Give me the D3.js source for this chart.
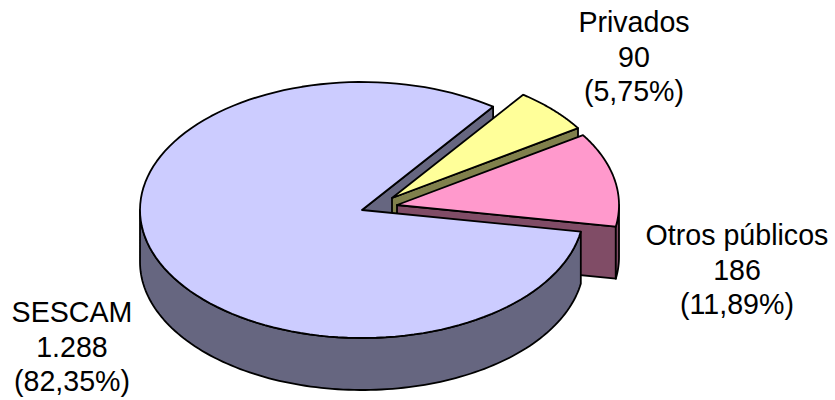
<!DOCTYPE html>
<html><head><meta charset="utf-8">
<script src="https://cdn.jsdelivr.net/npm/d3@7"></script>
<style>html,body{margin:0;padding:0;background:#fff}svg{display:block}text{font-family:"Liberation Sans",Arial,sans-serif;font-size:28.6px;fill:#000}</style>
</head><body><svg id="c" width="835" height="400"></svg>
<script>
const categories = ["Privados", "Otros públicos", "SESCAM"];
const values = [90, 186, 1288];
const valueLabels = ["90", "186", "1.288"];
const percentLabels = ["(5,75%)", "(11,89%)", "(82,35%)"];
const topColors = ["#FFFF99", "#FF99CC", "#CCCCFF"];
const sideColors = ["#80804C", "#804C66", "#666680"];

const rx = 222, ry = 128, depth = 52;
const apexes = [[392,198],[397,205],[362,210]];
const labelPos = [[634,32],[737,245],[72,322]];
const lineH = 34.5;
const svg = d3.select("#c");
const rad = d => d*Math.PI/180;
const startDeg = 36.2;
const arcs = d3.pie().sort(null).startAngle(rad(startDeg)).endAngle(rad(startDeg)+2*Math.PI)(values);
const xS = d3.scaleLinear().domain([-1,1]).range([-rx,rx]);
const yS = d3.scaleLinear().domain([-1,1]).range([-ry,ry]);
const pt = (i,a,dz=0) => [apexes[i][0]+xS(Math.sin(a)), apexes[i][1]+yS(-Math.cos(a))+dz];
const samples = (a0,a1) => d3.range(0,121).map(k => a0+(a1-a0)*k/120);
const line = d3.line();
const poly = (pts,fill) => svg.append("path").attr("d",line(pts)+"Z").attr("fill",fill)
  .attr("stroke","#000").attr("stroke-width",1.8).attr("stroke-linejoin","round");
const cutFace = (i,a) => poly([apexes[i],pt(i,a),pt(i,a,depth),[apexes[i][0],apexes[i][1]+depth]],sideColors[i]);
const wallFace = (i,d) => {
  const lo = Math.max(d.startAngle,Math.PI/2), hi = Math.min(d.endAngle,3*Math.PI/2);
  if (hi>lo) {
    const s = samples(lo,hi);
    poly([...s.map(a=>pt(i,a)),...s.slice().reverse().map(a=>pt(i,a,depth))],sideColors[i]);
  }
};
const topFace = (i,d) => poly([apexes[i],...samples(d.startAngle,d.endAngle).map(a=>pt(i,a))],topColors[i]);

// back-to-front: the big slice's rear cut face, the two small slices, then the big slice
cutFace(2,arcs[2].endAngle);
[0,1].forEach(i => { cutFace(i,arcs[i].endAngle); wallFace(i,arcs[i]); topFace(i,arcs[i]); });
wallFace(2,arcs[2]);
topFace(2,arcs[2]);

categories.forEach((c,i) => {
  const t = svg.append("text").attr("text-anchor","middle");
  [c,valueLabels[i],percentLabels[i]].forEach((s,k) =>
    t.append("tspan").attr("x",labelPos[i][0]).attr("y",labelPos[i][1]+k*lineH).text(s));
});
</script></body></html>
